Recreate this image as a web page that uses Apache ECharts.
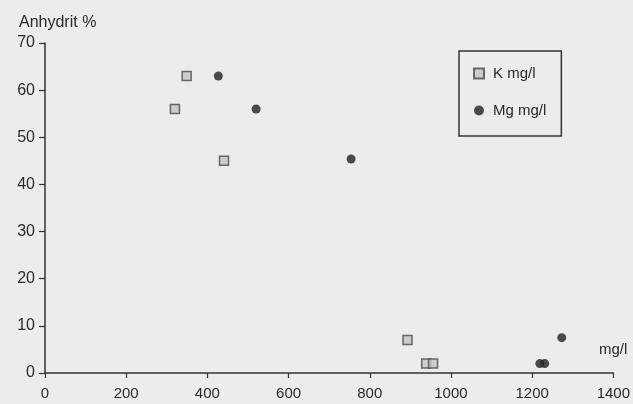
<!DOCTYPE html>
<html>
<head>
<meta charset="utf-8">
<script src="https://cdn.jsdelivr.net/npm/echarts@6/dist/echarts.min.js"></script>
<style>
  html, body { margin: 0; padding: 0; background: #ececec; }
  #chart { width: 633px; height: 404px; }
</style>
</head>
<body>
<div id="chart"></div>
<script>
// werte: [mg/l, Anhydrit %]
const kName = 'K mg/l'
const mgName = 'Mg mg/l'
const kData = [[320, 56], [349, 63], [441, 45], [893, 7], [939, 2], [956, 2]]
const mgData = [[427, 63], [520, 56], [754, 45.4], [1219, 2], [1231, 2], [1273, 7.5]]
const xTicks = [0, 1400, 200] // min, max, interval
const yTicks = [0, 70, 10]

const font = 'Liberation Sans, Arial, sans-serif'
const ink = '#2a2a2a'

let myChart = echarts.init(document.getElementById('chart'))
myChart.setOption({
  backgroundColor: '#ececec',
  animation: false,
  title: {
    text: 'Anhydrit %',
    left: 14,
    top: 10,
    textStyle: { fontSize: 16, fontWeight: 'normal', color: ink, fontFamily: font }
  },
  grid: { left: 45, top: 43, right: 17, bottom: 31 },
  legend: {
    orient: 'vertical',
    left: 459,
    top: 51,
    padding: [15, 15, 18, 14],
    itemGap: 22,
    itemWidth: 10,
    itemHeight: 10,
    borderColor: '#333',
    borderWidth: 1.5,
    textStyle: { fontSize: 15, color: ink, fontFamily: font, padding: [0, 0, 0, 4] },
    data: [kName, mgName]
  },
  xAxis: {
    type: 'value',
    min: xTicks[0],
    max: xTicks[1],
    interval: xTicks[2],
    name: 'mg/l',
    nameLocation: 'end',
    nameGap: 14,
    nameTextStyle: { fontSize: 15, color: ink, fontFamily: font, align: 'right', verticalAlign: 'bottom', padding: [0, 0, 16, 0] },
    splitLine: { show: false },
    axisLine: { lineStyle: { color: '#333', width: 1.5 } },
    axisTick: { length: 5, lineStyle: { color: '#333', width: 1.2 } },
    axisLabel: { fontSize: 15, color: ink, fontFamily: font, margin: 13, formatter: v => String(v) }
  },
  yAxis: {
    type: 'value',
    min: yTicks[0],
    max: yTicks[1],
    interval: yTicks[2],
    splitLine: { show: false },
    axisLine: { show: true, lineStyle: { color: '#333', width: 1.5 } },
    axisTick: { show: true, length: 6, lineStyle: { color: '#333', width: 1.2 } },
    axisLabel: { fontSize: 16, color: ink, fontFamily: font, margin: 10 }
  },
  series: [
    {
      name: kName,
      type: 'scatter',
      symbol: 'rect',
      symbolSize: 9,
      itemStyle: { color: '#c4c4c4', borderColor: '#4a4a4a', borderWidth: 1.5 },
      data: kData
    },
    {
      name: mgName,
      type: 'scatter',
      symbol: 'circle',
      symbolSize: 9,
      itemStyle: { color: '#222' },
      data: mgData
    }
  ]
})
</script>
</body>
</html>
